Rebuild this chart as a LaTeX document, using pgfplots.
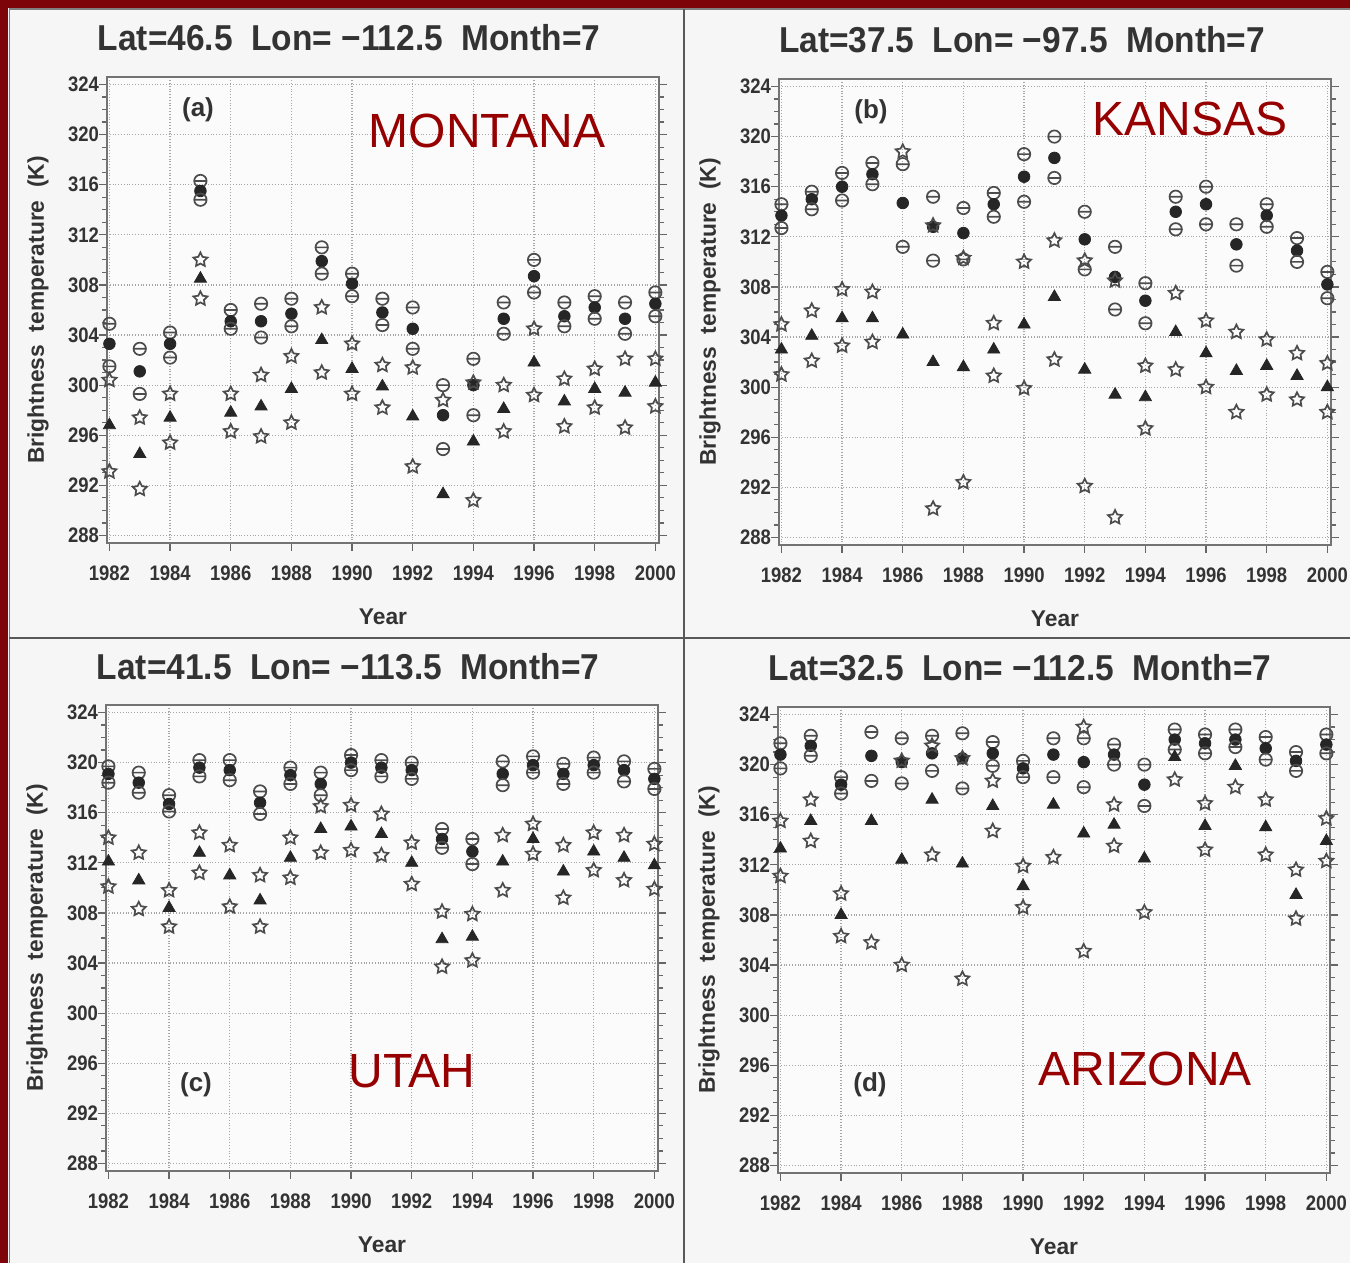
\documentclass[border=0pt]{standalone}
\usepackage{pgfplots}
\usepackage{pgfplotstable}
\pgfplotsset{compat=1.18}
\usepackage{fontspec}
\setmainfont{Liberation Sans}
\newfontfamily\condfont{Liberation Sans}[FakeStretch=0.88]
\newfontfamily\titlefont{Liberation Sans}[FakeStretch=0.93]
\newcommand\tickfont{\condfont\bfseries\fontsize{10.5}{12}\selectfont}
\newcommand\labfont{\bfseries\fontsize{11.4}{13}\selectfont}
\newcommand\ttlfont{\titlefont\bfseries\fontsize{18}{21}\selectfont}
\newcommand\statefont{\fontsize{24}{28}\selectfont}
\definecolor{statered}{RGB}{150,0,0}
\definecolor{borderred}{RGB}{125,5,10}
\definecolor{bg}{RGB}{246,246,246}

\pgfdeclareplotmark{ocircbar}{%
  \pgfpathcircle{\pgfpointorigin}{\pgfplotmarksize}%
  \pgfpathmoveto{\pgfpoint{-\pgfplotmarksize}{0pt}}%
  \pgfpathlineto{\pgfpoint{\pgfplotmarksize}{0pt}}%
  \pgfusepathqstroke}
\pgfdeclareplotmark{ostar}{%
  \pgfpathmoveto{\pgfpointpolar{90}{\pgfplotmarksize}}%
  \pgfpathlineto{\pgfpointpolar{126}{0.5\pgfplotmarksize}}%
  \pgfpathlineto{\pgfpointpolar{162}{\pgfplotmarksize}}%
  \pgfpathlineto{\pgfpointpolar{198}{0.5\pgfplotmarksize}}%
  \pgfpathlineto{\pgfpointpolar{234}{\pgfplotmarksize}}%
  \pgfpathlineto{\pgfpointpolar{270}{0.5\pgfplotmarksize}}%
  \pgfpathlineto{\pgfpointpolar{306}{\pgfplotmarksize}}%
  \pgfpathlineto{\pgfpointpolar{342}{0.5\pgfplotmarksize}}%
  \pgfpathlineto{\pgfpointpolar{18}{\pgfplotmarksize}}%
  \pgfpathlineto{\pgfpointpolar{54}{0.5\pgfplotmarksize}}%
  \pgfpathclose
  \pgfusepathqstroke}

\pgfplotstableread{
yr c1 f c2 s1 t s2
1982 304.9 303.3 301.5 300.4 296.8 293.1
1983 302.9 301.1 299.3 297.4 294.5 291.7
1984 304.2 303.3 302.2 299.3 297.4 295.4
1985 316.3 315.5 314.8 310.0 308.5 306.9
1986 306.0 305.1 304.5 299.3 297.8 296.3
1987 306.5 305.1 303.8 300.8 298.3 295.9
1988 306.9 305.7 304.7 302.3 299.7 297.0
1989 311.0 309.9 308.9 306.2 303.6 301.0
1990 308.9 308.1 307.1 303.3 301.3 299.3
1991 306.9 305.8 304.8 301.6 299.9 298.2
1992 306.2 304.5 302.9 301.4 297.5 293.5
1993 300.0 297.6 294.9 298.8 291.3 nan
1994 302.1 300.0 297.6 300.2 295.5 290.8
1995 306.6 305.3 304.1 300.0 298.1 296.3
1996 310.0 308.7 307.4 304.5 301.8 299.2
1997 306.6 305.5 304.7 300.5 298.7 296.7
1998 307.1 306.2 305.3 301.3 299.7 298.2
1999 306.6 305.3 304.1 302.1 299.4 296.6
2000 307.4 306.5 305.5 302.1 300.2 298.3
}\dataA
\pgfplotstableread{
yr c1 f c2 s1 t s2
1982 314.6 313.7 312.7 305.0 303.0 301.0
1983 315.6 315.0 314.2 306.1 304.1 302.1
1984 317.1 316.0 314.9 307.8 305.5 303.3
1985 317.9 317.0 316.2 307.6 305.5 303.6
1986 317.8 314.7 311.2 318.8 304.2 nan
1987 315.2 312.8 310.1 312.9 302.0 290.3
1988 314.3 312.3 310.2 310.3 301.6 292.4
1989 315.5 314.6 313.6 305.1 303.0 300.9
1990 318.6 316.8 314.8 310.0 305.0 299.9
1991 320.0 318.3 316.7 311.7 307.2 302.2
1992 314.0 311.8 309.4 310.1 301.4 292.1
1993 311.2 308.8 306.2 308.5 299.4 289.6
1994 308.3 306.9 305.1 301.7 299.2 296.7
1995 315.2 314.0 312.6 307.5 304.4 301.4
1996 316.0 314.6 313.0 305.3 302.7 300.0
1997 313.0 311.4 309.7 304.4 301.3 298.0
1998 314.6 313.7 312.8 303.8 301.7 299.4
1999 311.9 310.9 310.0 302.7 300.9 299.0
2000 309.2 308.2 307.1 301.9 300.0 298.0
}\dataB
\pgfplotstableread{
yr c1 f c2 s1 t s2
1982 319.7 319.1 318.4 314.0 312.1 310.1
1983 319.2 318.4 317.6 312.8 310.6 308.3
1984 317.4 316.7 316.1 309.8 308.4 306.9
1985 320.2 319.6 318.9 314.4 312.8 311.2
1986 320.2 319.4 318.6 313.4 311.0 308.5
1987 317.7 316.8 315.9 311.0 309.0 306.9
1988 319.6 319.0 318.3 314.0 312.4 310.8
1989 319.2 318.3 317.4 316.5 314.7 312.8
1990 320.6 320.0 319.4 316.6 314.9 313.0
1991 320.2 319.6 318.9 315.9 314.3 312.6
1992 320.0 319.4 318.7 313.6 312.0 310.3
1993 314.7 313.9 313.2 308.1 305.9 303.7
1994 313.9 312.9 311.9 307.9 306.1 304.2
1995 320.1 319.1 318.2 314.2 312.1 309.8
1996 320.5 319.8 319.2 315.1 313.9 312.7
1997 319.9 319.1 318.3 313.4 311.3 309.2
1998 320.4 319.8 319.2 314.4 312.9 311.4
1999 320.1 319.4 318.5 314.2 312.4 310.6
2000 319.5 318.7 317.9 313.5 311.8 309.9
}\dataC
\pgfplotstableread{
yr c1 f c2 s1 t s2
1982 321.7 320.8 319.7 315.5 313.3 311.1
1983 322.3 321.5 320.7 317.2 315.5 313.9
1984 319.0 318.4 317.7 309.7 308.0 306.3
1985 322.6 320.7 318.7 nan 315.5 305.8
1986 322.1 320.2 318.5 320.3 312.4 304.0
1987 322.3 320.9 319.5 321.5 317.2 312.8
1988 322.5 320.5 318.1 320.5 312.1 302.9
1989 321.8 320.9 319.9 318.7 316.7 314.7
1990 320.3 319.7 319.0 311.9 310.3 308.6
1991 322.1 320.8 319.0 nan 316.8 312.6
1992 322.1 320.2 318.2 323.0 314.5 305.1
1993 321.6 320.8 320.0 316.8 315.2 313.5
1994 320.0 318.4 316.7 nan 312.5 308.2
1995 322.8 322.0 321.2 nan 320.6 318.8
1996 322.4 321.7 320.9 316.9 315.1 313.2
1997 322.8 322.0 321.4 nan 319.9 318.2
1998 322.2 321.3 320.4 317.2 315.0 312.8
1999 321.0 320.3 319.5 311.6 309.6 307.7
2000 322.4 321.6 320.9 315.7 313.9 312.3
}\dataD

\pgfplotsset{
  panel/.style={
    scale only axis, width=276pt, height=233pt,
    xmin=1981.92, xmax=2000.12, ymin=287.4, ymax=324.6,
    xtick={1982,1984,...,2000}, minor x tick num=1,
    ytick={288,292,...,324}, minor y tick num=3,
    xtick pos=left, ytick pos=both, yticklabel pos=left,
    tick align=outside,
    major tick length=4pt, minor tick length=2.5pt,
    grid=major, major grid style={densely dotted, black!35, line width=0.6pt},
    axis line style={black!55, line width=0.6pt},
    every tick/.style={black!60, line width=0.6pt},
    ticklabel style={font=\tickfont, text=black!80},
    xticklabel style={yshift=-4pt},
    yticklabel style={xshift=3.5pt},
    /pgf/number format/1000 sep={},
    /pgf/number format/assume math mode=true,
    xlabel={Year}, ylabel={Brightness\ \ temperature\ \ (K)},
    label style={font=\labfont, text=black!80},
    xlabel style={at={(axis description cs:0.5,-0.159)}, anchor=center},
    ylabel style={at={(axis description cs:-0.125,0.5)}, anchor=center},
    clip=false,
    axis background/.style={fill=white!60!bg},
  },
  omark/.style={only marks, color=black!70, mark=ocircbar, mark size=3.1pt, mark options={line width=0.85pt, fill=none}},
  fmark/.style={only marks, color=black!85, mark=*, mark size=2.9pt},
  tmark/.style={only marks, color=black!85, mark=triangle*, mark size=3.5pt},
  smark/.style={only marks, color=black!70, mark=ostar, mark size=3.7pt, mark options={line width=0.85pt}},
}
\newcommand\sixplots[1]{%
  \addplot[omark] table[x=yr,y=c1]{#1};
  \addplot[fmark] table[x=yr,y=f]{#1};
  \addplot[omark] table[x=yr,y=c2]{#1};
  \addplot[smark] table[x=yr,y=s1]{#1};
  \addplot[tmark] table[x=yr,y=t]{#1};
  \addplot[smark] table[x=yr,y=s2]{#1};
}

\begin{document}
\begin{tikzpicture}
\path[use as bounding box, fill=bg] (0,0) rectangle (675pt,631.5pt);
\fill[borderred] (0,0) rectangle (4pt,631.5pt);
\fill[borderred] (0,627.5pt) rectangle (675pt,631.5pt);
\draw[black!50, line width=0.6pt] (4.6pt,0) -- (4.6pt,627pt) -- (675pt,627pt);
\draw[black!65, line width=0.7pt] (342pt,0) -- (342pt,627pt);
\draw[black!65, line width=0.7pt] (4.6pt,312.5pt) -- (675pt,312.5pt);

\begin{axis}[panel, at={(53.5pt,360pt)}, anchor=south west]
\sixplots{\dataA}
\end{axis}
\begin{axis}[panel, at={(389.5pt,359pt)}, anchor=south west]
\sixplots{\dataB}
\end{axis}
\begin{axis}[panel, at={(53pt,46pt)}, anchor=south west]
\sixplots{\dataC}
\end{axis}
\begin{axis}[panel, at={(389pt,45pt)}, anchor=south west]
\sixplots{\dataD}
\end{axis}

\node[font=\ttlfont, text=black!80] at (174.5pt,612.5pt) {Lat=46.5\ \ Lon=\ −112.5\ \ Month=7};
\node[font=\ttlfont, text=black!80] at (511pt,611.5pt) {Lat=37.5\ \ Lon=\ −97.5\ \ Month=7};
\node[font=\ttlfont, text=black!80] at (174pt,298pt) {Lat=41.5\ \ Lon=\ −113.5\ \ Month=7};
\node[font=\ttlfont, text=black!80] at (510pt,297.5pt) {Lat=32.5\ \ Lon=\ −112.5\ \ Month=7};

\node[font=\labfont\fontsize{13}{15}\selectfont, text=black!80] at (99pt,576.5pt) {(a)};
\node[font=\labfont\fontsize{13}{15}\selectfont, text=black!80] at (435.5pt,575.5pt) {(b)};
\node[font=\labfont\fontsize{13}{15}\selectfont, text=black!80] at (98pt,89pt) {(c)};
\node[font=\labfont\fontsize{13}{15}\selectfont, text=black!80] at (435pt,89pt) {(d)};

\node[font=\statefont, text=statered] at (243.5pt,566pt) {MONTANA};
\node[font=\statefont, text=statered] at (595pt,572pt) {KANSAS};
\node[font=\statefont, text=statered] at (206pt,96pt) {UTAH};
\node[font=\statefont, text=statered] at (572.5pt,97pt) {ARIZONA};
\end{tikzpicture}
\end{document}
